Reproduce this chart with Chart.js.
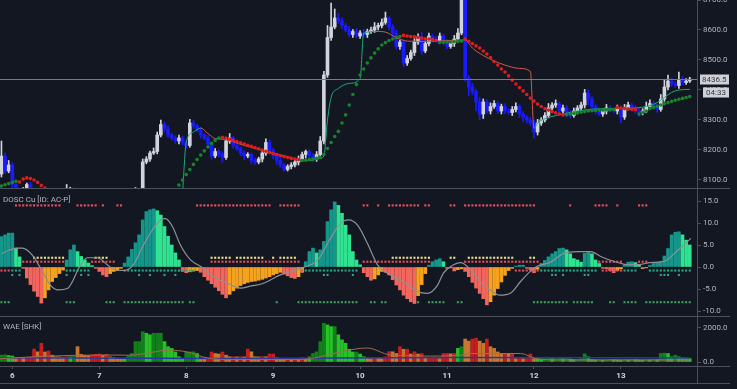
<!DOCTYPE html>
<html>
<head>
<meta charset="utf-8">
<title>Price / DOSC / WAE</title>
<script src="https://cdn.jsdelivr.net/npm/chart.js@4.4.1/dist/chart.umd.min.js"></script>
<style>
  html, body { margin: 0; padding: 0; background: #131722; }
  #wrap { position: relative; width: 737px; height: 389px; overflow: hidden; }
  canvas { position: absolute; left: 0; }
  #price { top: 0; }
  #dosc { top: 188px; }
  #wae { top: 316px; }
</style>
</head>
<body>
<div id="wrap">
  <canvas id="price" width="737" height="188"></canvas>
  <canvas id="dosc" width="737" height="128"></canvas>
  <canvas id="wae" width="737" height="73"></canvas>
</div>
<script>
/* ── Data ───────────────────────────────────────────── */
// one candle per hour, hours counted from day 6 00:00
const dayLabels = ["6", "7", "8", "9", "10", "11", "12", "13"];
const priceTicks = [8100, 8200, 8300, 8400, 8500, 8600, 8700];
const doscTicks = [-10, -5, 0, 5, 10, 15];
const waeTicks = [0, 2000];
const firstHour = -3;
const firstOpen = 8120;
const countdown = "04:33";

const closes = [
  8180, 8130, 8150, 8085, 8040, 8050, 8065, 8085, 8060, 8030,
  8010, 7990, 8000, 8010, 8020, 8030, 8040, 8050, 8065, 8070,
  8060, 8050, 8045, 8040, 8035, 8030, 8020, 8015, 8010, 8020,
  8025, 8030, 8035, 8040, 8050, 8045, 8055, 8065, 8060, 8160,
  8170, 8190, 8195, 8250, 8285, 8270, 8250, 8240, 8230, 8240,
  8225, 8215, 8290, 8280, 8265, 8250, 8240, 8220, 8180, 8195,
  8185, 8175, 8230, 8240, 8215, 8205, 8190, 8180, 8185, 8165,
  8160, 8170, 8190, 8225, 8200, 8180, 8165, 8150, 8135, 8145,
  8150, 8160, 8170, 8185, 8195, 8180, 8170, 8185, 8230, 8450,
  8575, 8610, 8640, 8630, 8615, 8600, 8585, 8595, 8580, 8590,
  8585, 8595, 8600, 8610, 8615, 8625, 8640, 8610, 8590, 8545,
  8560, 8490, 8505, 8525, 8560, 8577, 8530, 8555, 8580, 8570,
  8565, 8580, 8560, 8545, 8555, 8570, 8590, 8730, 8440, 8410,
  8395, 8360, 8320, 8360, 8330, 8345, 8355, 8330, 8345, 8330,
  8325, 8335, 8345, 8320, 8310, 8300, 8290, 8260, 8290, 8300,
  8315, 8340, 8350, 8355, 8330, 8340, 8320, 8315, 8330, 8340,
  8350, 8390, 8370, 8345, 8330, 8320, 8330, 8340, 8335, 8330,
  8340, 8310, 8340, 8350, 8340, 8330, 8325, 8330, 8345, 8355,
  8345, 8335, 8370, 8410, 8430, 8420, 8415, 8435, 8425, 8430,
  8436.5
];

// wick length above / below the body
const wickUp = [
  50, 10, 15, 8, 5, 8, 10, 5, 8, 5,
  5, 8, 6, 5, 8, 6, 5, 8, 20, 6,
  5, 8, 5, 6, 5, 8, 5, 6, 5, 8,
  5, 6, 8, 5, 6, 8, 5, 10, 5, 10,
  8, 6, 12, 10, 15, 8, 10, 6, 8, 10,
  6, 8, 12, 8, 6, 10, 5, 8, 6, 10,
  5, 8, 12, 15, 6, 8, 5, 8, 6, 5,
  8, 6, 10, 12, 8, 5, 6, 8, 5, 6,
  8, 6, 10, 8, 5, 6, 8, 10, 15, 12,
  40, 80, 30, 15, 10, 8, 12, 6, 10, 8,
  12, 8, 10, 15, 8, 12, 20, 5, 8, 10,
  6, 8, 10, 8, 12, 10, 15, 8, 10, 6,
  8, 10, 6, 8, 10, 12, 15, 0, 10, 8,
  12, 6, 15, 10, 8, 12, 10, 6, 8, 10,
  8, 10, 12, 6, 8, 5, 8, 10, 12, 8,
  10, 15, 8, 12, 6, 10, 8, 12, 10, 8,
  10, 12, 10, 8, 6, 10, 8, 12, 8, 6,
  10, 8, 12, 10, 6, 8, 10, 8, 15, 12,
  8, 6, 15, 25, 20, 10, 8, 25, 10, 8,
  6
];
const wickDn = [
  10, 8, 6, 10, 8, 5, 8, 6, 8, 10,
  6, 8, 5, 6, 8, 5, 6, 8, 5, 6,
  8, 5, 6, 8, 5, 6, 8, 5, 6, 8,
  5, 6, 8, 5, 6, 8, 5, 6, 8, 10,
  6, 8, 5, 8, 6, 10, 8, 6, 8, 10,
  8, 10, 6, 8, 5, 10, 6, 8, 10, 6,
  8, 15, 6, 8, 10, 6, 8, 12, 6, 10,
  8, 6, 10, 8, 6, 10, 12, 8, 6, 5,
  8, 6, 10, 8, 12, 6, 10, 8, 6, 10,
  8, 10, 6, 8, 10, 6, 8, 10, 6, 8,
  8, 10, 6, 8, 10, 8, 6, 10, 15, 8,
  10, 12, 8, 6, 10, 8, 12, 6, 8, 10,
  6, 8, 10, 8, 6, 10, 8, 6, 10, 30,
  10, 30, 20, 15, 8, 10, 6, 8, 10, 8,
  6, 10, 8, 12, 15, 10, 8, 20, 10, 8,
  6, 8, 10, 8, 12, 6, 10, 8, 6, 10,
  8, 10, 20, 8, 10, 6, 8, 10, 8, 6,
  10, 20, 8, 6, 10, 8, 12, 8, 6, 10,
  8, 10, 6, 8, 10, 8, 6, 10, 8, 6,
  5
];

// stop-and-reverse dots: runs of consecutive hours, 1 = up (below price)
const sarStart = [-3, 2, 46, 58, 80, 108, 118, 125, 153, 167, 173];
const sarDir = [1, -1, 1, -1, 1, -1, 1, -1, 1, -1, 1];
const sarRuns = [
  [8080, 8084, 8088, 8092, 8096],
  [8093, 8103, 8107, 8105, 8100, 8092, 8082, 8073],
  [8083, 8100, 8118, 8135, 8152, 8168, 8183, 8197, 8210, 8222, 8232, 8240],
  [8242, 8240, 8236, 8232, 8228, 8224, 8220, 8216, 8212, 8208, 8204, 8200, 8196, 8192, 8188, 8185, 8181, 8178, 8175, 8172, 8170, 8168],
  [8165, 8166, 8168, 8170, 8172, 8175, 8185, 8205, 8225, 8245, 8262, 8290, 8317, 8350, 8385, 8418, 8450, 8470, 8490, 8507, 8523, 8537, 8550, 8558, 8565, 8570, 8575, 8578],
  [8582, 8580, 8578, 8577, 8575, 8573, 8571, 8570, 8568, 8566],
  [8558, 8559, 8560, 8560, 8561, 8562, 8563],
  [8570, 8562, 8555, 8547, 8540, 8530, 8520, 8508, 8495, 8483, 8470, 8460, 8447, 8433, 8420, 8408, 8397, 8385, 8373, 8363, 8353, 8345, 8338, 8333, 8328, 8324, 8320, 8317],
  [8318, 8320, 8322, 8324, 8326, 8328, 8330, 8331, 8332, 8333, 8333, 8334, 8334, 8335],
  [8342, 8340, 8338, 8337, 8336, 8335],
  [8320, 8325, 8330, 8338, 8342, 8346, 8350, 8354, 8358, 8362, 8366, 8369, 8372, 8375, 8378]
];

// thin trailing line [hour, price] and the trend of the segment that starts there
const thinPts = [
  [47, 8060], [48, 8225], [50, 8260], [52, 8273], [54, 8255], [56, 8238], [58, 8236], [64, 8215], [70, 8195], [76, 8178],
  [79, 8168], [82, 8165], [85, 8172], [86, 8180], [87, 8300], [88, 8375], [90, 8405], [93, 8422], [96, 8438], [97, 8590],
  [101, 8595], [103, 8593], [106, 8575], [109, 8563], [115, 8562], [120, 8565], [123, 8566], [125, 8567], [127, 8540], [130, 8515],
  [133, 8497], [136, 8483], [140, 8472], [143, 8462], [144, 8272], [145, 8290], [148, 8308], [152, 8320], [156, 8330], [160, 8336],
  [166, 8338], [172, 8340], [176, 8348], [178, 8358], [180, 8375], [182, 8392], [184, 8400], [187, 8402]
];
const thinDir = [
  1, 1, 1, -1, -1, 1, -1, -1, -1, -1,
  1, 1, 1, 1, 1, 1, 1, 1, 1, 1,
  1, -1, -1, -1, -1, -1, 1, -1, -1, -1,
  -1, -1, -1, -1, 1, 1, 1, 1, 1, 1,
  1, 1, 1, 1, 1, 1, 1, 1
];

// DOSC histogram, one value per hour
const doscHist = [
  6.9, 7.3, 7.7, 7.7, 4.3, 2.3, -0.3, -2.5, -4.0, -5.5,
  -6.7, -8.2, -7.0, -5.2, -3.3, -2.4, -1.5, -0.7, 1.6, 3.9,
  5.0, 3.5, 2.4, 1.6, 0.9, 0.3, -0.3, -1.0, -1.8, -2.2,
  -1.5, -1.0, -0.8, -0.3, 0.9, 2.3, 4.0, 5.5, 7.3, 10.7,
  12.6, 13.0, 13.2, 12.8, 11.8, 9.2, 7.0, 5.0, 3.2, 1.6,
  -1.0, -1.3, -1.1, -0.9, -0.8, -1.2, -2.2, -3.0, -3.8, -4.6,
  -5.4, -6.2, -7.0, -6.2, -5.4, -4.8, -4.2, -3.8, -3.5, -3.3,
  -3.2, -3.0, -2.8, -2.5, -2.2, -1.8, -1.5, -1.2, -1.6, -2.0,
  -2.4, -2.6, -2.2, -1.2, 1.2, 3.5, 4.3, 3.2, 3.9, 5.8,
  10.3, 13.0, 14.8, 14.0, 12.2, 9.5, 7.3, 3.5, 1.6, 0.5,
  -1.3, -2.2, -3.0, -2.7, -1.8, -1.0, -1.2, -1.8, -2.9, -4.1,
  -5.2, -6.4, -7.2, -7.9, -8.3, -6.5, -4.0, -1.5, 0.4, 1.2,
  1.6, 1.9, 1.2, -0.3, -0.2, -0.9, -0.6, -0.4, -1.0, -2.2,
  -3.5, -4.8, -6.0, -7.2, -8.6, -7.9, -6.4, -4.9, -3.4, -1.9,
  -0.8, -0.3, 0.2, 0.4, 0.4, -0.3, -0.6, -1.3, -0.5, 0.8,
  1.5, 2.3, 3.0, 3.5, 4.2, 4.3, 3.9, 3.0, 1.9, 1.6,
  1.1, 3.1, 3.5, 3.0, 1.6, 0.8, -0.3, -0.4, -0.8, -1.3,
  -0.8, -0.4, 0.4, 1.1, 1.2, 1.0, 0.6, -0.4, -0.2, 0.4,
  0.8, 1.1, 1.3, 2.5, 4.2, 7.3, 7.9, 8.0, 7.3, 6.1,
  5.0
];

// DOSC signal [hour, value]
const doscSignal = [
  [-3, 3.0], [-1, 3.8], [1.4, 4.3], [2.8, 4.3], [5.5, 2.7], [8.3, -1.0], [10.5, -4.1], [12.7, -5.2], [15.2, -4.9], [16.6, -3.3],
  [18.5, 0.0], [20.7, 2.1], [23.5, 2.1], [26.2, 0.5], [27.9, -0.5], [30.7, -0.8], [33.4, 0.5], [36.2, 5.0], [39, 8.8], [40.9, 10.7],
  [42.3, 11.0], [44.2, 9.2], [46.4, 5.0], [49.2, 1.6], [52, 0.1], [55.5, -2.2], [59.4, -3.7], [63, -4.8], [66, -4.3], [69, -3.8],
  [74, -1.8], [79.6, -0.3], [84.3, 1.6], [87.8, 6.5], [90.6, 9.9], [92.8, 10.7], [95.3, 9.5], [98, 5.4], [100.8, 0.5], [104.4, -1.8],
  [108, -3.3], [111.9, -5.6], [114.6, -6.0], [117.4, -4.1], [119, -1.4], [121.8, 0.5], [123.8, 1.0], [126.5, -0.6], [130, -4.1], [132, -5.3],
  [134.5, -6.4], [137.6, -5.9], [140.3, -3.3], [143, -1.0], [145, 0.2], [148.6, 1.1], [152.2, 3.1], [156, 3.5], [159.7, 3.5], [162.4, 2.4],
  [166, 1.3], [170, 0.5], [173.5, 0.6], [176, 1.0], [180, 1.3], [183.7, 3.8], [187.3, 6.5]
];

// DOSC signal dots: hour ranges [from, to] and the level they sit on
const dotLevels = { top: 14, yellow: 2.1, mid: 1.2, low: -0.8, low2: -1.8, bottom: -8 };
const dotsTopRed = [[1, 13], [18, 23], [25, 25], [29, 30], [51, 71], [74, 79], [97, 98], [101, 101], [104, 112], [114, 115], [121, 122], [125, 144], [154, 154], [161, 164], [167, 167], [173, 175]];
const dotsYellow = [[6, 14], [23, 26], [55, 60], [62, 69], [72, 72], [74, 78], [105, 115], [121, 122], [126, 138], [143, 144]];
const dotsMidRed = [[3, 14], [22, 28], [55, 79], [97, 115], [125, 145], [162, 168], [173, 175]];
const dotsLowGreen = [[0, 2], [15, 21], [31, 50], [81, 95], [146, 161], [169, 172], [176, 187]];
const dotsLowRed = [[-3, -1], [80, 80], [139, 145], [163, 168]];
const dotsLow2 = [0, 2, 15, 19, 21, 35, 38, 42, 45, 86, 87, 94, 149, 150, 152, 158, 159, 179, 180, 181, 184];
const dotsBottom = [[-3, -1], [15, 17], [26, 28], [31, 47], [49, 50], [73, 73], [79, 95], [99, 100], [102, 103], [112, 112], [115, 119], [123, 124], [144, 153], [155, 160], [165, 166], [169, 172], [175, 187]];

// WAE trend per hour (positive = up trend, negative = down trend)
const waeTrend = [
  400, 420, 380, 350, -200, -230, -220, -250, -300, -760,
  -600, -1100, -590, -650, -400, -310, -300, -280, -310, 300,
  320, -900, -450, -400, -380, -420, -450, -470, -400, -450,
  -300, -250, -200, -180, 200, 350, 500, 1200, 1200, 1780,
  1690, 1600, 1690, 1690, 1690, 1200, 900, 800, 590, 310,
  200, 590, 590, 600, 500, -235, -230, -240, -590, -500,
  -470, -590, -400, -310, -310, -300, -310, -300, -760, -600,
  -310, -300, -320, -310, -470, -470, -250, -220, -200, -210,
  -200, -220, -200, -250, -200, 300, 500, 600, 1200, 2280,
  2180, 2080, 2080, 1600, 1300, 1100, 750, 590, 590, 470,
  310, -215, -200, -220, -215, -200, -300, -610, -600, -500,
  -900, -750, -750, -470, -600, -470, -500, -215, -215, -215,
  -215, -200, -500, -500, -480, -500, 800, 900, -1350, -1230,
  -1350, -1400, -1230, -1100, -1350, -900, -800, -590, -470, -470,
  -450, -450, -200, -210, -200, -200, -470, -200, 200, 180,
  200, 220, 200, 200, 230, 200, 210, 180, 150, 150,
  200, 480, 300, 150, 130, 140, 120, 130, 150, 140,
  130, 120, 140, 130, 150, 140, 130, 120, 140, 130,
  150, 140, 500, 520, 500, 300, 400, 300, 250, 230,
  200
];
const waeExplosion = [
  [-3.4, 200], [10.5, 350], [24.3, 410], [32.6, 400], [38.1, 550], [42.8, 700], [48.3, 590], [53.9, 235], [61, 150], [79.6, 150],
  [85, 300], [90.6, 600], [96, 800], [98, 820], [104.4, 410], [115.5, 350], [123.8, 400], [126.5, 500], [140.3, 500], [144.5, 200],
  [151.4, 120], [187, 120]
];
const waeDeadZone = [[-3.4, 250], [60, 210], [120, 270], [187, 240]];

/* ── Look ───────────────────────────────────────────── */
const X_MIN = -3.4, X_MAX = 189.0, AXIS_W = 40, FRAME_RIGHT = 730;
const LINE = "#4c505b", TEXT = "#b2b5be";
const FONT = { family: "Roboto", size: 8 };
const CANDLE_UP = "#d1d4dc", CANDLE_DN = "#1a1aff";
const SAR_UP = "#17852a", SAR_DN = "#e01d1d";
const THIN_UP = "#22a87a", THIN_DN = "#d2584e";

/* ── Derived tables ─────────────────────────────────── */
const hours = closes.map((_, i) => firstHour + i);
const opens = closes.map((c, i) => (i === 0 ? firstOpen : closes[i - 1]));
const candleColors = closes.map((c, i) => (c >= opens[i] ? CANDLE_UP : CANDLE_DN));
const bodies = hours.map((h, i) => ({ x: h, y: [opens[i], closes[i]] }));
const wicks = hours.map((h, i) => ({
  x: h,
  y: [Math.min(opens[i], closes[i]) - wickDn[i], Math.max(opens[i], closes[i]) + wickUp[i]]
}));

const sarPoints = [], sarColors = [];
sarRuns.forEach((run, r) => run.forEach((v, k) => {
  sarPoints.push({ x: sarStart[r] + k, y: v });
  sarColors.push(sarDir[r] > 0 ? SAR_UP : SAR_DN);
}));

const expand = ranges => ranges.flatMap(([a, b]) => Array.from({ length: b - a + 1 }, (_, k) => a + k));
const atLevel = (hrs, level) => hrs.map(h => ({ x: h, y: level }));
const pairs = list => list.map(([x, y]) => ({ x, y }));

const doscColors = doscHist.map((v, i) => {
  const prev = i ? doscHist[i - 1] : v;
  if (v >= 0) return v >= prev ? "#15968a" : "#2fe391";
  return v <= prev ? "#f2665d" : "#f5a21e";
});
const waeColors = waeTrend.map((v, i) => {
  const prev = i ? waeTrend[i - 1] : v;
  const rising = Math.abs(v) >= Math.abs(prev) && Math.sign(v) === Math.sign(prev);
  if (v >= 0) return rising ? "#12801a" : "#27c227";
  return rising ? "#c81c1f" : "#c7782f";
});

/* ── Shared options ─────────────────────────────────── */
const xScale = show => ({
  type: "linear", min: X_MIN, max: X_MAX, display: show, offset: false,
  afterFit: s => { if (show) { s.height = 23; s.paddingLeft = 0; s.paddingRight = 0; } },
  afterBuildTicks: s => { s.ticks = dayLabels.map((_, k) => ({ value: k * 24 })); },
  border: { display: false },
  grid: { drawOnChartArea: false, drawTicks: true, tickLength: 3, color: LINE, offset: false },
  ticks: {
    autoSkip: false, maxRotation: 0, padding: 2,
    color: "#d1d4dc", font: { ...FONT, weight: "bold" },
    callback: (v, i) => dayLabels[i]
  }
});

const yScale = (min, max, tickValues) => ({
  position: "right", min, max,
  afterFit: s => { s.width = AXIS_W; s.paddingTop = 0; s.paddingBottom = 0; },
  afterBuildTicks: s => { s.ticks = tickValues.map(value => ({ value })); },
  border: { display: true, color: LINE },
  grid: { drawOnChartArea: false, drawTicks: true, tickLength: 4, color: LINE },
  ticks: { autoSkip: false, padding: 2, color: TEXT, font: FONT, callback: v => v.toFixed(1) }
});

const baseOptions = (scales, frameOpts) => ({
  responsive: false,
  animation: false,
  events: [],
  layout: { padding: 0, autoPadding: false },
  scales,
  plugins: { legend: { display: false }, tooltip: { enabled: false }, frame: frameOpts }
});

/* ── Plugins ────────────────────────────────────────── */
const frame = {
  id: "frame",
  afterDraw(chart, args, opts) {
    const { ctx, chartArea: a } = chart;
    const hline = (y, x1, x2) => { ctx.beginPath(); ctx.moveTo(x1, y); ctx.lineTo(x2, y); ctx.stroke(); };
    ctx.save();
    ctx.strokeStyle = LINE;
    ctx.lineWidth = 1;
    if (opts.topLine) hline(0.5, 0, FRAME_RIGHT);
    if (opts.axisLines) {
      const bottom = chart.height - 6 + 0.5;
      hline(Math.round(a.bottom) + 0.5, 0, FRAME_RIGHT);
      hline(bottom, 0, FRAME_RIGHT);
      ctx.beginPath();
      ctx.moveTo(Math.round(a.right) + 0.5, a.bottom);
      ctx.lineTo(Math.round(a.right) + 0.5, bottom);
      ctx.stroke();
    }
    if (opts.title) {
      ctx.fillStyle = TEXT;
      ctx.font = "8px Roboto";
      ctx.textBaseline = "middle";
      ctx.fillText(opts.title, 3, opts.titleY);
    }
    ctx.restore();
  }
};

const lastPriceTag = {
  id: "lastPriceTag",
  afterDraw(chart) {
    const { ctx, chartArea: a, scales: { y } } = chart;
    const last = closes[closes.length - 1];
    const py = Math.round(y.getPixelForValue(last)) + 0.5;
    ctx.save();
    ctx.strokeStyle = "#787b86";
    ctx.lineWidth = 1;
    ctx.beginPath(); ctx.moveTo(a.left, py); ctx.lineTo(a.right, py); ctx.stroke();
    ctx.font = "8px Roboto";
    ctx.textBaseline = "middle";
    ctx.fillStyle = "#cfd1d7";
    ctx.fillRect(a.right + 3, py - 5, 29, 10);
    ctx.fillRect(a.right + 6, py + 8, 26, 10);
    ctx.fillStyle = "#363a45";
    ctx.fillText(last.toFixed(1), a.right + 5, py);
    ctx.fillText(countdown, a.right + 9, py + 13);
    ctx.restore();
  }
};

/* ── Price panel ────────────────────────────────────── */
new Chart(document.getElementById("price"), {
  type: "bar",
  data: {
    datasets: [
      {
        type: "scatter", data: sarPoints, order: 0, clip: 0,
        pointRadius: 1.8, pointBorderWidth: 0,
        pointBackgroundColor: sarColors, pointBorderColor: sarColors
      },
      {
        type: "line", data: pairs(thinPts), order: 1, clip: 0,
        borderWidth: 1, pointRadius: 0, cubicInterpolationMode: "monotone",
        borderColor: THIN_UP,
        segment: { borderColor: c => (thinDir[c.p0DataIndex] > 0 ? THIN_UP : THIN_DN) }
      },
      {
        data: bodies, order: 2, clip: 0, grouped: false,
        barThickness: 3, minBarLength: 1, borderWidth: 0, backgroundColor: candleColors
      },
      {
        data: wicks, order: 3, clip: 0, grouped: false,
        barThickness: 1, borderWidth: 0, backgroundColor: candleColors
      }
    ]
  },
  options: baseOptions({ x: xScale(false), y: yScale(8700 - 188 / 0.3, 8700, priceTicks) }, {}),
  plugins: [frame, lastPriceTag]
});

/* ── DOSC panel ─────────────────────────────────────── */
const dotSet = (pts, color, order) => ({
  type: "scatter", data: pts, order, clip: 0,
  pointStyle: "rect", pointRadius: 1.5, pointBorderWidth: 0,
  pointBackgroundColor: color, pointBorderColor: color
});

new Chart(document.getElementById("dosc"), {
  type: "bar",
  data: {
    datasets: [
      {
        type: "line", data: pairs(doscSignal), order: 0, clip: 0,
        borderColor: "#8e9198", borderWidth: 1.2, pointRadius: 0, cubicInterpolationMode: "monotone"
      },
      dotSet(atLevel(expand(dotsTopRed), dotLevels.top), "#e8505b", 1),
      dotSet(atLevel(expand(dotsYellow), dotLevels.yellow), "#e9dc8a", 1),
      dotSet(atLevel(expand(dotsMidRed), dotLevels.mid), "#e24d5b", 1),
      dotSet(atLevel(expand(dotsLowGreen), dotLevels.low), "#22a884", 1),
      dotSet(atLevel(expand(dotsLowRed), dotLevels.low), "#e24d5b", 1),
      dotSet(atLevel(dotsLow2, dotLevels.low2), "#22a884", 1),
      dotSet(atLevel(expand(dotsBottom), dotLevels.bottom), "#3a9d58", 1),
      {
        data: hours.map((h, i) => ({ x: h, y: doscHist[i] })), order: 2, clip: 0, grouped: false,
        barThickness: 3, borderWidth: 0, backgroundColor: doscColors
      }
    ]
  },
  options: baseOptions(
    { x: xScale(false), y: yScale(-49 / 4.4, 79 / 4.4, doscTicks) },
    { topLine: true, title: "DOSC Cu [ID: AC-P]", titleY: 12 }
  ),
  plugins: [frame]
});

/* ── WAE panel ──────────────────────────────────────── */
new Chart(document.getElementById("wae"), {
  type: "bar",
  data: {
    datasets: [
      {
        type: "line", data: pairs(waeExplosion), order: 0, clip: 0,
        borderColor: "#a36b4e", borderWidth: 1, pointRadius: 0, cubicInterpolationMode: "monotone"
      },
      {
        type: "line", data: pairs(waeDeadZone), order: 0, clip: 0,
        borderColor: "#2837a8", borderWidth: 1.5, pointRadius: 0, cubicInterpolationMode: "monotone"
      },
      {
        data: hours.map((h, i) => ({ x: h, y: Math.abs(waeTrend[i]) })), order: 1, clip: 0, grouped: false,
        barThickness: 3, borderWidth: 0, backgroundColor: waeColors
      }
    ]
  },
  options: baseOptions(
    { x: xScale(true), y: yScale(-4 / 0.017, 46 / 0.017, waeTicks) },
    { topLine: true, axisLines: true, title: "WAE [SHK]", titleY: 11 }
  ),
  plugins: [frame]
});
</script>
</body>
</html>
